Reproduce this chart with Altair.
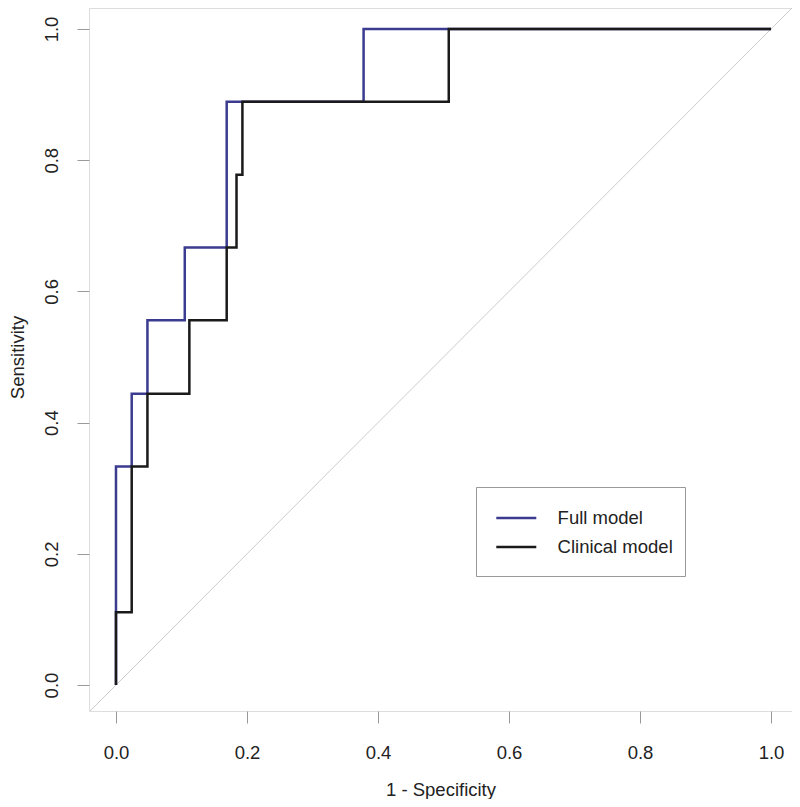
import altair as alt
import pandas as pd

# ROC corner points
full_fpr = [0.0, 0.0, 0.024, 0.024, 0.048, 0.048, 0.105, 0.105, 0.169, 0.169, 0.378, 0.378, 1.0]
full_tpr = [0.0, 0.333, 0.333, 0.444, 0.444, 0.556, 0.556, 0.667, 0.667, 0.889, 0.889, 1.0, 1.0]

clin_fpr = [0.0, 0.0, 0.024, 0.024, 0.048, 0.048, 0.112, 0.112, 0.169, 0.169, 0.184, 0.184,
            0.193, 0.193, 0.508, 0.508, 1.0]
clin_tpr = [0.0, 0.111, 0.111, 0.333, 0.333, 0.444, 0.444, 0.556, 0.556, 0.667, 0.667, 0.778,
            0.778, 0.889, 0.889, 1.0, 1.0]

models = ["Full model", "Clinical model"]
model_colors = ["#3b3b8f", "#1a1a1a"]
diag_vals = [-0.05, 1.05]
x_ticks = [0.0, 0.2, 0.4, 0.6, 0.8, 1.0]
y_ticks = [0.0, 0.2, 0.4, 0.6, 0.8, 1.0]

rows = []
for i, (x, y) in enumerate(zip(full_fpr, full_tpr)):
    rows.append({"model": models[0], "fpr": x, "tpr": y, "idx": i})
for i, (x, y) in enumerate(zip(clin_fpr, clin_tpr)):
    rows.append({"model": models[1], "fpr": x, "tpr": y, "idx": 100 + i})
df = pd.DataFrame(rows)
diag = pd.DataFrame({"fpr": diag_vals, "tpr": diag_vals})

FONT = "Liberation Sans"
FS = 18.5

xscale = alt.Scale(domain=[-0.0412, 1.032], nice=False, zero=False)
yscale = alt.Scale(domain=[-0.0396, 1.032], nice=False, zero=False)

xaxis = alt.Axis(values=x_ticks, format=".1f", title="1 - Specificity", grid=False,
                 domain=False, tickSize=12, tickColor="#999999", labelFontSize=FS,
                 labelPadding=35, labelBaseline="alphabetic", labelFont=FONT,
                 labelColor="#222222", titleFont=FONT, titleFontSize=FS,
                 titleFontWeight="normal", titleColor="#222222", titleY=84,
                 titleBaseline="alphabetic")
yaxis = alt.Axis(values=y_ticks, format=".1f", title="Sensitivity", grid=False,
                 domain=False, tickSize=12, tickColor="#999999", labelFontSize=FS,
                 labelAngle=-90, labelAlign="center", labelBaseline="alphabetic",
                 labelPadding=20, labelFont=FONT, labelColor="#222222",
                 titleFont=FONT, titleFontSize=FS, titleFontWeight="normal",
                 titleColor="#222222", titleAngle=-90, titleX=-66, titleY=349,
                 titleAlign="center", titleBaseline="alphabetic")

diag_layer = alt.Chart(diag).mark_line(color="#cccccc", strokeWidth=1, clip=True).encode(
    x=alt.X("fpr:Q", scale=xscale, axis=xaxis),
    y=alt.Y("tpr:Q", scale=yscale, axis=yaxis),
)

roc_layer = alt.Chart(df).mark_line(strokeWidth=2.5, clip=True).encode(
    x=alt.X("fpr:Q", scale=xscale),
    y=alt.Y("tpr:Q", scale=yscale),
    color=alt.Color("model:N", scale=alt.Scale(domain=models, range=model_colors),
                    sort=models,
                    legend=alt.Legend(title=" ", titleOrient="bottom", titleFontSize=1,
                                      titlePadding=6, orient="none", legendX=387, legendY=479,
                                      strokeColor="#999999", fillColor="white", padding=12,
                                      symbolType="M-0.605,0H1.655", symbolSize=1253,
                                      symbolStrokeWidth=2.5, labelFontSize=FS,
                                      labelFont=FONT, labelColor="#222222",
                                      labelOffset=31.6, rowPadding=-5.9, cornerRadius=0)),
    order=alt.Order("idx:Q"),
)

chart = alt.layer(diag_layer, roc_layer).properties(
    width=703, height=703,
    autosize=alt.AutoSizeParams(type="none"),
    padding={"left": 81, "top": 0, "right": 0, "bottom": 88},
).configure_view(stroke="#999999", strokeWidth=1).configure(background="white")

chart.save("out.html", embed_options={"renderer": "svg", "actions": False})
